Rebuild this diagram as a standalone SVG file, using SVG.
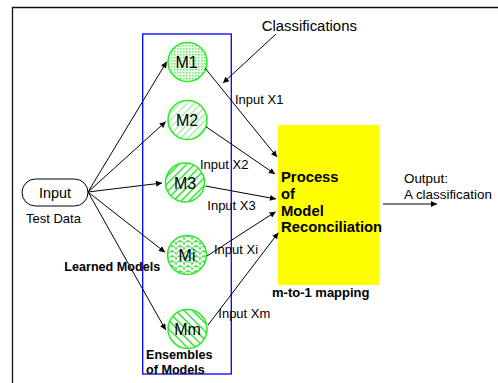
<svg xmlns="http://www.w3.org/2000/svg" width="498" height="383" viewBox="0 0 498 383">
<style>
text{font-family:"Liberation Sans",Arial,sans-serif;fill:#000}
.b{font-weight:bold}
.conn line{stroke:#000;stroke-width:1;marker-end:url(#ah)}
.c{stroke:#22ee22;stroke-width:1.5}
.m{font-size:16px;text-anchor:middle}
.lbl{font-size:13px}
</style>
<defs>
<marker id="ah" viewBox="0 0 10 10" refX="10" refY="5" markerWidth="7" markerHeight="6" markerUnits="userSpaceOnUse" orient="auto">
<path d="M0,0 L10,5 L0,10 z" fill="#000"/>
</marker>
<pattern id="p1" width="3" height="3" patternUnits="userSpaceOnUse">
<rect width="3" height="3" fill="#fff"/>
<rect x="0" y="0" width="1.5" height="1.5" fill="#66ee66"/>
<rect x="1.5" y="1.5" width="1" height="1" fill="#99f599"/>
</pattern>
<pattern id="p2" width="5" height="5" patternUnits="userSpaceOnUse" patternTransform="rotate(45)">
<rect width="5" height="5" fill="#fff"/>
<line x1="0" y1="0" x2="0" y2="5" stroke="#44e044" stroke-width="1.2"/>
</pattern>
<pattern id="p3" width="5.5" height="5.5" patternUnits="userSpaceOnUse" patternTransform="rotate(45)">
<rect width="5.5" height="5.5" fill="#fff"/>
<line x1="0" y1="0" x2="0" y2="5.5" stroke="#11dd11" stroke-width="2.6"/>
</pattern>
<pattern id="p4" width="8" height="5" patternUnits="userSpaceOnUse">
<rect width="8" height="5" fill="#fff"/>
<path d="M0,5 A4,4 0 0 1 8,5 M-4,2.5 A4,4 0 0 1 4,2.5 M4,2.5 A4,4 0 0 1 12,2.5" fill="none" stroke="#44e044" stroke-width="0.9"/>
</pattern>
<pattern id="p5" width="6" height="6" patternUnits="userSpaceOnUse" patternTransform="rotate(-45)">
<rect width="6" height="6" fill="#fff"/>
<line x1="0" y1="0" x2="0" y2="6" stroke="#11dd11" stroke-width="2.6"/>
</pattern>
</defs>
<rect width="498" height="383" fill="#fff"/>
<g id="frame">
<path d="M12.5,383 L12.5,7.5 L498,7.5" fill="none" stroke="#111" stroke-width="1.3"/>
</g>
<g id="ensemble">
<rect x="142.7" y="34" width="88.6" height="340" fill="none" stroke="#0000ff" stroke-width="1.3"/>
<text class="b" x="146" y="359" font-size="12.6">Ensembles</text>
<text class="b" x="146" y="373.5" font-size="12.6">of Models</text>
</g>
<g id="reconcile">
<rect x="278" y="125" width="101" height="160" fill="#ffff00"/>
<text class="b" x="281" y="181.5" font-size="14.8">Process</text>
<text class="b" x="281" y="198.5" font-size="14.8">of</text>
<text class="b" x="281" y="215.5" font-size="14.8">Model</text>
<text class="b" x="281" y="232" font-size="14.8">Reconciliation</text>
<text class="b" x="272" y="297" font-size="13">m-to-1 mapping</text>
</g>
<g id="input">
<rect x="22" y="179" width="66" height="27" rx="13.5" fill="#fff" stroke="#000" stroke-width="1"/>
<text x="55" y="198.3" font-size="14.4" text-anchor="middle">Input</text>
<text x="26" y="222.7" font-size="13">Test Data</text>
</g>
<g id="M1"><circle class="c" cx="187.5" cy="62" r="19.5" fill="url(#p1)"/><text class="m" x="186.5" y="68">M1</text></g>
<g id="M2"><circle class="c" cx="187.5" cy="120" r="19.5" fill="url(#p2)"/><text class="m" x="187" y="126">M2</text></g>
<g id="M3"><circle class="c" cx="185" cy="182.5" r="19.5" fill="url(#p3)"/><text class="m" x="185" y="188.5">M3</text></g>
<g id="Mi"><circle class="c" cx="187" cy="255" r="19.5" fill="url(#p4)"/><text class="m" x="187" y="261">Mi</text></g>
<g id="Mm"><circle class="c" cx="187.5" cy="329" r="19.5" fill="url(#p5)"/><text class="m" x="187.5" y="335">Mm</text></g>
<g id="labels">
<text x="261.7" y="30.5" font-size="14.9">Classifications</text>
<text class="b" x="64.3" y="270.7" font-size="12.6">Learned Models</text>
<text class="lbl" x="235" y="104">Input X1</text>
<text class="lbl" x="200" y="169">Input X2</text>
<text class="lbl" x="207.3" y="210">Input X3</text>
<text class="lbl" x="214" y="254">Input Xi</text>
<text class="lbl" x="218.3" y="318.3">Input Xm</text>
<text x="404" y="182.5" font-size="13.4">Output:</text>
<text x="404" y="199" font-size="13.4">A classification</text>
</g>
<g id="connectors" class="conn">
<line x1="88" y1="192" x2="166.7" y2="61.7"/>
<line x1="88" y1="192" x2="165.7" y2="121.7"/>
<line x1="88" y1="192" x2="162" y2="183"/>
<line x1="88" y1="192" x2="165" y2="252.3"/>
<line x1="88" y1="192" x2="165.7" y2="330"/>
<line x1="205" y1="68" x2="277" y2="157"/>
<line x1="206" y1="126.7" x2="275" y2="174"/>
<line x1="205.5" y1="186" x2="276" y2="199"/>
<line x1="207" y1="256" x2="275.7" y2="211.7"/>
<line x1="208" y1="325" x2="278.3" y2="232.7"/>
<line x1="276" y1="34" x2="223" y2="83"/>
<line x1="383" y1="204" x2="437" y2="204"/>
</g>
</svg>
